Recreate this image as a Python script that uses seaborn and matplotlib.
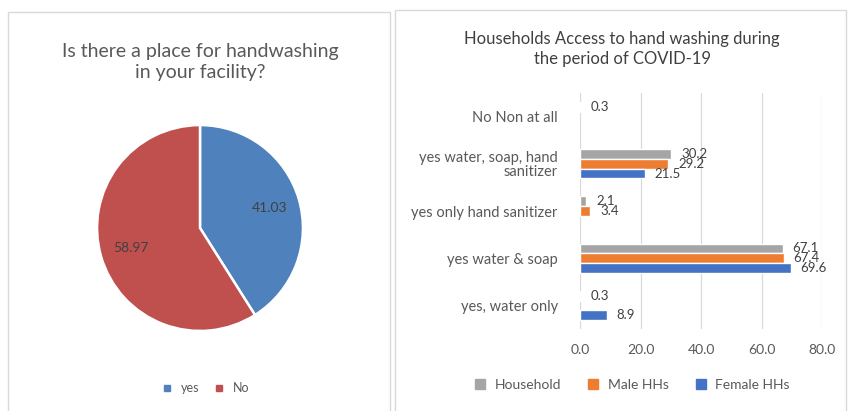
import numpy as np
import pandas as pd
import matplotlib
matplotlib.use("Agg")
import matplotlib.pyplot as plt
from matplotlib.patches import Rectangle
from matplotlib.lines import Line2D
import seaborn as sns

# ---- data ----
pie_labels = ["yes", "No"]
pie_values = [41.03, 58.97]

categories = ["No Non at all", "yes water, soap, hand\nsanitizer",
              "yes only hand sanitizer", "yes water & soap", "yes, water only"]
household = [0.3, 30.2, 2.1, 67.1, 0.3]
male_hhs = [np.nan, 29.2, 3.4, 67.4, np.nan]
female_hhs = [np.nan, 21.5, np.nan, 69.6, 8.9]
series_names = ["Household", "Male HHs", "Female HHs"]
x_ticks = [0, 20, 40, 60, 80]

pie_colors = ["#4F81BD", "#C0504D"]
bar_colors = ["#A5A5A5", "#ED7D31", "#4472C4"]

sns.set_theme(style="white")
plt.rcParams["font.family"] = ["Lato", "DejaVu Sans"]

W, H = 848, 411
fig = plt.figure(figsize=(W / 100, H / 100), dpi=100)
fig.patch.set_facecolor("white")


def px(x0, y0, x1, y1):
    """Convert pixel box (top-left origin) to figure fraction rect."""
    return [x0 / W, 1 - y1 / H, (x1 - x0) / W, (y1 - y0) / H]


# panel frames
for (x0, y0, x1, y1) in [(8, 12, 390, 414), (395, 10, 846, 414)]:
    fig.add_artist(Rectangle((x0 / W, 1 - y1 / H), (x1 - x0) / W, (y1 - y0) / H,
                             transform=fig.transFigure, fill=False,
                             edgecolor="#D9D9D9", linewidth=1.0))

# ---- left: pie ----
r = 105
ax_pie = fig.add_axes(px(200 - r, 228 - r, 200 + r, 228 + r))
total = sum(pie_values)
wedges, _, autotexts = ax_pie.pie(
    pie_values, colors=pie_colors, startangle=90, counterclock=False,
    autopct=lambda p: f"{p * total / 100:.2f}", pctdistance=0.7,
    wedgeprops=dict(edgecolor="white", linewidth=1.8),
    textprops=dict(fontsize=10, color="#404040"))
ax_pie.set_aspect("equal")
ax_pie.set_xlim(-1.02, 1.02)
ax_pie.set_ylim(-1.02, 1.02)

fig.text(200 / W, 1 - 62 / H, "Is there a place for handwashing\nin your facility?",
         ha="center", va="center", fontsize=14, color="#595959", linespacing=1.25)

pie_handles = [Line2D([], [], marker="s", linestyle="", markersize=4,
                      markerfacecolor=c, markeredgecolor=c) for c in pie_colors]
fig.legend(pie_handles, pie_labels, loc="center", bbox_to_anchor=(202 / W, 1 - 388 / H),
           ncol=2, frameon=False, fontsize=9, handletextpad=0.1, columnspacing=0.6,
           labelcolor="#595959")

# ---- right: grouped horizontal bars ----
df = pd.DataFrame({
    "category": np.repeat(categories, 3),
    "series": series_names * len(categories),
    "value": np.ravel(np.column_stack([household, male_hhs, female_hhs])),
})

ax = fig.add_axes(px(580, 93, 822, 329))
sns.barplot(data=df, y="category", x="value", hue="series", order=categories,
            hue_order=series_names, palette=bar_colors, orient="h", width=0.62,
            saturation=1, ax=ax, legend=False, errorbar=None)
ax.set_xlim(0, 80)
ax.set_xticks(x_ticks)
ax.set_xticklabels([f"{t:.1f}" for t in x_ticks])
ax.grid(axis="x", color="#D9D9D9", linewidth=0.9)
ax.set_axisbelow(True)
for s in ax.spines.values():
    s.set_visible(False)
ax.set_xlabel("")
ax.set_ylabel("")
ax.tick_params(axis="both", length=0, colors="#595959")
ax.tick_params(axis="x", pad=11, labelsize=10)
ax.tick_params(axis="y", pad=16, labelsize=10.5)
for lbl in ax.get_yticklabels():
    lbl.set_multialignment("right")
    lbl.set_linespacing(1.0)

# value labels at bar ends
n = len(series_names)
group_w = 0.62
bar_h = group_w / n
for ci, cat in enumerate(categories):
    for si, vals in enumerate([household, male_hhs, female_hhs]):
        v = vals[ci]
        if np.isnan(v):
            continue
        yc = ci - group_w / 2 + bar_h * (si + 0.5)
        ax.annotate(f"{v:.1f}", xy=(v, yc), xytext=(7, 0), textcoords="offset points",
                    ha="left", va="center", fontsize=9.5, color="#404040",
                    annotation_clip=False)

fig.text(622 / W, 1 - 49 / H, "Households Access to hand washing during\nthe period of COVID-19",
         ha="center", va="center", fontsize=12, color="#404040", linespacing=1.3)

bar_handles = [Line2D([], [], marker="s", linestyle="", markersize=6.5,
                      markerfacecolor=c, markeredgecolor=c) for c in bar_colors]
fig.legend(bar_handles, series_names, loc="center", bbox_to_anchor=(628 / W, 1 - 385 / H),
           ncol=3, frameon=False, fontsize=10, handletextpad=0.05, columnspacing=1.3,
           labelcolor="#595959")

fig.savefig("out.png", dpi=100, facecolor="white")
